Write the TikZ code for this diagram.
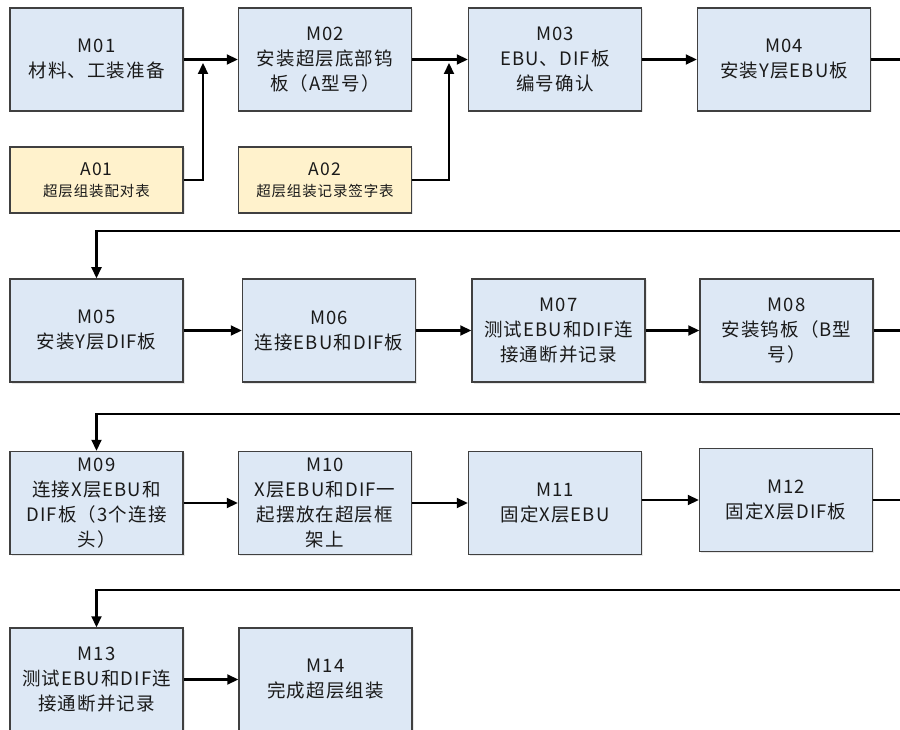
\documentclass[tikz,border=0pt]{standalone}
\usepackage{fontspec}
\setmainfont{Noto Sans CJK SC}[LetterSpace=6]
\usetikzlibrary{arrows.meta,shadows,calc}
\definecolor{mfill}{HTML}{DDE8F5}
\definecolor{afill}{HTML}{FFF2CC}
\definecolor{bord}{HTML}{404040}
\definecolor{txt}{HTML}{1A1A1A}
\begin{document}
\begin{tikzpicture}[x=1pt,y=-1pt,
 mbox/.style={draw=bord, line width=1.5pt, fill=mfill, minimum width=173pt, minimum height=103pt,
   align=center, text=txt, font=\fontsize{18.5}{25}\selectfont, inner sep=0pt,
   drop shadow={opacity=0.18, shadow xshift=1.5pt, shadow yshift=-1.5pt}},
 abox/.style={mbox, fill=afill, minimum height=66pt, font=\fontsize{17.5}{21}\selectfont},
 conn/.style={line width=2.2pt, -{Triangle[length=11pt,width=10pt]}},
 wire/.style={line width=2.2pt}
]
\useasboundingbox (0,0) rectangle (900,730);
\clip (0,0) rectangle (900,730);
\fill[white] (0,0) rectangle (900,730);

% row 1
\node[mbox] (M01) at (96.5,59.5) {M01\\材料、工装准备};
\node[mbox] (M02) at (325,59.5) {M02\\安装超层底部钨\\板（A型号）};
\node[mbox] (M03) at (555,59.5) {M03\\EBU、DIF板\\编号确认};
\node[mbox] (M04) at (784,59.5) {M04\\安装Y层EBU板};
\node[abox] (A01) at (96.5,180) {A01\\{\fontsize{14.5}{19}\selectfont 超层组装配对表}};
\node[abox] (A02) at (325,180) {A02\\{\fontsize{14.5}{19}\selectfont 超层组装记录签字表}};

% row 2
\node[mbox] (M05) at (96.5,330.5) {M05\\安装Y层DIF板};
\node[mbox] (M06) at (329,330.5) {M06\\连接EBU和DIF板};
\node[mbox] (M07) at (558.5,330.5) {M07\\测试EBU和DIF连\\接通断并记录};
\node[mbox] (M08) at (786.5,330.5) {M08\\安装钨板（B型\\号）};

% row 3
\node[mbox] (M09) at (96.5,503) {M09\\连接X层EBU和\\DIF板（3个连接\\头）};
\node[mbox] (M10) at (325,503) {M10\\X层EBU和DIF一\\起摆放在超层框\\架上};
\node[mbox] (M11) at (555,503) {M11\\固定X层EBU};
\node[mbox] (M12) at (786,500) {M12\\固定X层DIF板};

% row 4
\node[mbox] (M13) at (96.5,679.5) {M13\\测试EBU和DIF连\\接通断并记录};
\node[mbox] (M14) at (325.5,679.5) {M14\\完成超层组装};

% connectors row 1
\draw[conn] (M01.east) -- (M02.west);
\draw[conn] (M02.east) -- (M03.west);
\draw[conn] (M03.east) -- (M04.west);
\coordinate (j1) at (203,63);
\coordinate (j2) at (449,63);
\draw[conn] (A01.east) -| (j1);
\draw[conn] (A02.east) -| (j2);

% wrap to row 2
\coordinate (t1) at (96.5,231);
\draw[conn] (M04.east) -- (915,59.5) |- (t1) -- (M05.north);
\draw[conn] (M05.east) -- (M06.west);
\draw[conn] (M06.east) -- (M07.west);
\draw[conn] (M07.east) -- (M08.west);

% wrap to row 3
\coordinate (t2) at (96.5,414);
\draw[conn] (M08.east) -- (915,330.5) |- (t2) -- (M09.north);
\draw[conn] (M09.east) -- (M10.west);
\draw[conn] (M10.east) -- (M11.west);
\draw[conn] (M11.east |- M12.west) -- (M12.west);

% wrap to row 4
\coordinate (t3) at (96.5,590);
\draw[conn] (M12.east) -- (915,500) |- (t3) -- (M13.north);
\draw[conn] (M13.east) -- (M14.west);
\end{tikzpicture}
\end{document}
